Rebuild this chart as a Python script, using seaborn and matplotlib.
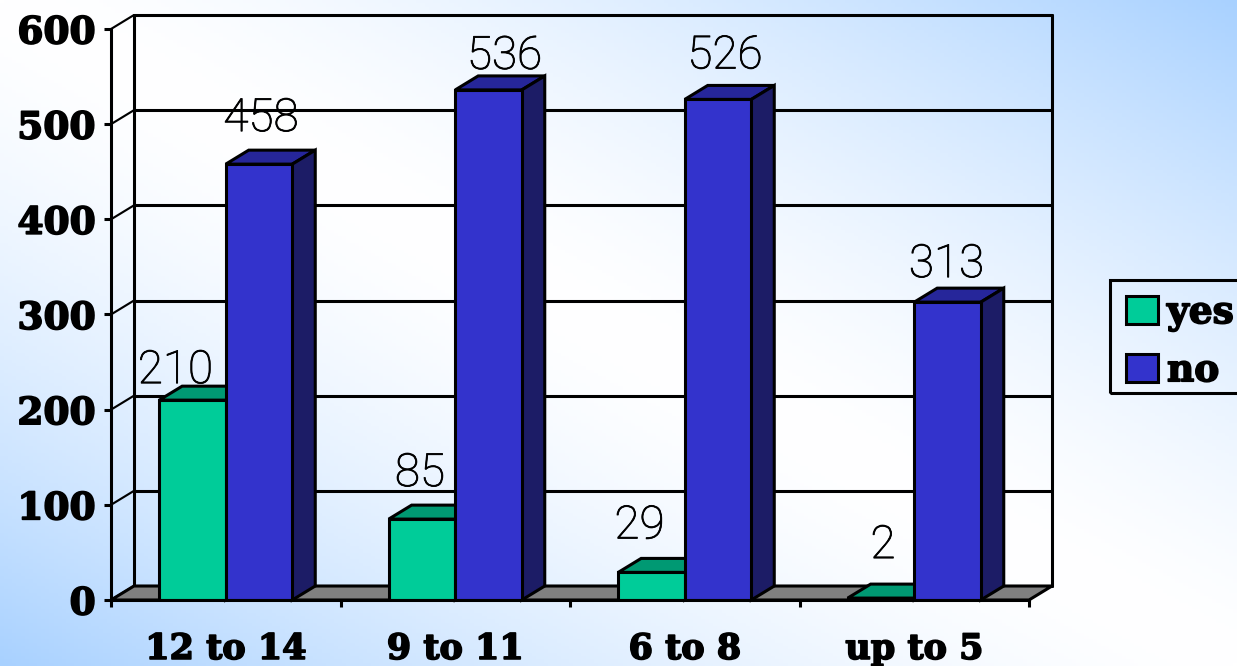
"""
Grafico de barras com efeito 3D (yes / no por faixa de idade), fundo em gradiente.
"""

import numpy as np
import pandas as pd
import matplotlib
matplotlib.use('Agg')
import matplotlib.pyplot as plt
import matplotlib.patheffects as pe
from matplotlib.patches import Polygon, Rectangle
import seaborn as sns

# Dados
categorias = ['12 to 14', '9 to 11', '6 to 8', 'up to 5']
valores_yes = [210, 85, 29, 2]
valores_no = [458, 536, 526, 313]
ticks_y = [0, 100, 200, 300, 400, 500, 600]

# Deslocamento dos rotulos em pixels (x, y)
offset_yes = [(-17, 30), (-2, 46), (-12, 47), (2, 53)]
offset_no = [(2, 46), (16, 34), (7, 44), (-1, 38)]

# Cores
COR_YES, COR_YES_TOPO = '#00CC99', '#009973'
COR_NO, COR_NO_TOPO, COR_NO_LADO = '#3333CC', '#26269A', '#1C1C66'
COR_YES_LADO = '#006B50'

# Profundidade em unidades dos dados
DX, DY = 0.1, 14.7
LW = 2.2
W, H = 1237, 666

df = pd.DataFrame({
    'faixa': categorias * 2,
    'valor': valores_yes + valores_no,
    'resposta': ['yes'] * 4 + ['no'] * 4,
})

sns.set_style('white')
plt.rcParams['font.family'] = ['DejaVu Serif']
fig = plt.figure(figsize=(W / 100, H / 100), dpi=100)

# Fundo em gradiente diagonal (branco na diagonal, azul nos cantos)
bg = fig.add_axes([0, 0, 1, 1], zorder=0)
xx, yy = np.meshgrid(np.linspace(0, 1, 300), np.linspace(0, 1, 200))
t = np.abs((xx - 0.5) + (yy - 0.5)) ** 1.5
azul = np.array([0.66, 0.82, 1.0])
img = 1 - t[..., None] * (1 - azul)
bg.imshow(img, origin='lower', aspect='auto', extent=[0, 1, 0, 1])
bg.axis('off')

ax = fig.add_axes([111 / W, 1 - 600 / H, 918 / W, 571 / H], zorder=1)
ax.patch.set_alpha(0)

sns.barplot(data=df, x='faixa', y='valor', hue='resposta', order=categorias,
            hue_order=['yes', 'no'], palette={'yes': COR_YES, 'no': COR_NO},
            width=0.58, dodge=True, gap=0, edgecolor='black', linewidth=LW,
            saturation=1, zorder=3, ax=ax)
ax.set_xlim(-0.5, 3.5)
ax.set_ylim(0, 600)
x0, x1 = ax.get_xlim()

# Parede do fundo e piso
for v in ticks_y:
    ax.plot([x0 + DX, x1 + DX], [v + DY, v + DY], color='black', lw=LW, zorder=1, clip_on=False)
    ax.plot([x0, x0 + DX], [v, v + DY], color='black', lw=LW * 0.7, zorder=1, clip_on=False)
for xv in [x0 + DX, x1 + DX]:
    ax.plot([xv, xv], [DY, 600 + DY], color='black', lw=LW, zorder=1, clip_on=False)
ax.add_patch(Polygon([(x0, 0), (x1, 0), (x1 + DX, DY), (x0 + DX, DY)], closed=True,
                     facecolor='#808080', edgecolor='black', lw=LW, zorder=1.5, clip_on=False))


def faces_3d(barras, cor_topo, cor_lado, z):
    # topo e lateral calculados a partir de cada barra desenhada
    for b in barras:
        a, c = b.get_x(), b.get_x() + b.get_width()
        h = b.get_height()
        ax.add_patch(Polygon([(a, h), (c, h), (c + DX, h + DY), (a + DX, h + DY)], closed=True,
                             facecolor=cor_topo, edgecolor='black', lw=LW, zorder=z, clip_on=False))
        ax.add_patch(Polygon([(c, 0), (c + DX, DY), (c + DX, h + DY), (c, h)], closed=True,
                             facecolor=cor_lado, edgecolor='black', lw=LW, zorder=z, clip_on=False))


barras_yes, barras_no = ax.containers[0], ax.containers[1]
faces_3d(barras_yes, COR_YES_TOPO, COR_YES_LADO, 2.5)
faces_3d(barras_no, COR_NO_TOPO, COR_NO_LADO, 2.5)

# Rotulos de valor
for barras, valores, offs in [(barras_yes, valores_yes, offset_yes), (barras_no, valores_no, offset_no)]:
    for b, v, off in zip(barras, valores, offs):
        ax.annotate(str(v), (b.get_x() + b.get_width() / 2, v), xytext=(off[0] * 0.72, off[1] * 0.72),
                    textcoords='offset points', ha='center', va='center', fontsize=33,
                    family='Roboto', fontweight='light', color='black', zorder=5,
                    annotation_clip=False,
                    path_effects=[pe.withStroke(linewidth=0.6, foreground='black')])

# Eixos
sns.despine(ax=ax, top=True, right=True)
for s in ['left', 'bottom']:
    ax.spines[s].set_linewidth(LW)
    ax.spines[s].set_color('black')
    ax.spines[s].set_zorder(4)
ax.set_yticks(ticks_y)
ax.set_xticks(range(4))
ax.set_xticklabels(categorias)
ax.set_xticks(np.arange(-0.5, 4, 1), minor=True)
ax.tick_params(axis='x', which='major', length=0, pad=23)
ax.tick_params(axis='x', which='minor', bottom=True, length=5, width=LW, color='black')
ax.tick_params(axis='y', left=True, length=5, width=LW, color='black', pad=6)
for lab in ax.get_yticklabels():
    lab.set_fontsize(27)
for lab in ax.get_xticklabels():
    lab.set_fontsize(25.2)
for lab in ax.get_xticklabels() + ax.get_yticklabels():
    lab.set_fontweight('bold')
    lab.set_color('black')
    lab.set_path_effects([pe.withStroke(linewidth=1.2, foreground='black')])
ax.set_xlabel('')
ax.set_ylabel('')

# Legenda: caixa desenhada a parte, sai pela borda direita como no original
handles, labels = ax.get_legend_handles_labels()
ax.get_legend().remove()
leg = ax.legend(handles, labels, loc='upper left', bbox_to_anchor=(1110 / W, 1 - 278 / H),
                bbox_transform=fig.transFigure, borderaxespad=0, frameon=False,
                labelcolor='black', prop={'family': 'DejaVu Serif', 'weight': 'bold', 'size': 27},
                handlelength=0.85, handleheight=0.75, handletextpad=0.24, labelspacing=0.55,
                borderpad=0.43)
leg.set_zorder(6)
for txt in leg.get_texts():
    txt.set_path_effects([pe.withStroke(linewidth=1.2, foreground='black')])
fig.add_artist(Rectangle((1110 / W, 1 - 393 / H), 140 / W, 113 / H, transform=fig.transFigure,
                         facecolor='none', edgecolor='black', lw=LW, zorder=5))

fig.savefig('out.png', dpi=100)
plt.close(fig)
